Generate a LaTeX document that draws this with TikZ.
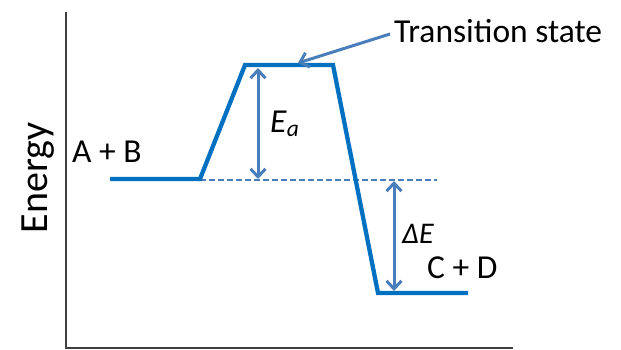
\documentclass[tikz,border=0pt]{standalone}
\usepackage{fontspec}
\setmainfont{Carlito}
\usetikzlibrary{arrows.meta}
\definecolor{curveblue}{HTML}{0070C0}
\definecolor{arrowblue}{HTML}{4A7EBB}
\definecolor{axisgray}{HTML}{404040}
\tikzset{
  curve/.style={curveblue, line width=4.3pt},
  tip/.style={Straight Barb[length=8pt,width=15pt]},
  dimarrow/.style={arrowblue, line width=3pt, {Straight Barb[length=8pt,width=15pt]}-{Straight Barb[length=8pt,width=15pt]}},
  axis/.style={axisgray, line width=2pt},
  lbl/.style={font=\fontsize{33.5}{38}\selectfont, inner sep=0pt},
}
\begin{document}
\begin{tikzpicture}[x=1pt,y=-1pt]
\useasboundingbox (0,0) rectangle (621,350);
% axes
\coordinate (ytop) at (66,12);
\coordinate (origin) at (66,348);
\coordinate (xend) at (513,348);
\draw[axis] (ytop) -- (origin) -- (xend);
% dashed reference
\coordinate (d1) at (200,180);
\coordinate (d2) at (437,180);
\draw[arrowblue, line width=1.2pt, dash pattern=on 6pt off 3pt] (d1) -- (d2);
% energy curve
\coordinate (r1) at (110,179);
\coordinate (r2) at (200,179);
\coordinate (t1) at (245,65);
\coordinate (t2) at (333,65);
\coordinate (p1) at (378,293);
\coordinate (p2) at (468,293);
\draw[curve, line join=miter] (r1) -- (r2) -- (t1) -- (t2) -- (p1) -- (p2);
% Ea arrow
\coordinate (ea1) at (258,68);
\coordinate (ea2) at (258,179);
\draw[dimarrow] (ea1) -- (ea2);
% dE arrow
\coordinate (de1) at (394,181);
\coordinate (de2) at (394,291);
\draw[dimarrow] (de1) -- (de2);
% labels
\node[lbl, anchor=base west] (ts) at (394,43) {Transition state};
\coordinate (tsfrom) at (390,34);
\coordinate (tstip) at (298,63);
\draw[arrowblue, line width=3pt, -{Straight Barb[length=8pt,width=15pt]}] (tsfrom) -- (tstip);
\node[lbl, anchor=base west] (ab) at (72,163) {A + B};
\node[lbl, anchor=base west] (cd) at (427,278) {C + D};
\node[lbl, anchor=base west] (ea) at (270,133) {\textit{E}\textsubscript{\textit{a}}};
\node[lbl, anchor=base west, font=\fontsize{30}{34}\selectfont] (de) at (402,243) {\textit{ΔE}};
\node[font=\fontsize{40}{46}\selectfont, inner sep=0pt, rotate=90] (en) at (38,178) {Energy};
\end{tikzpicture}
\end{document}
